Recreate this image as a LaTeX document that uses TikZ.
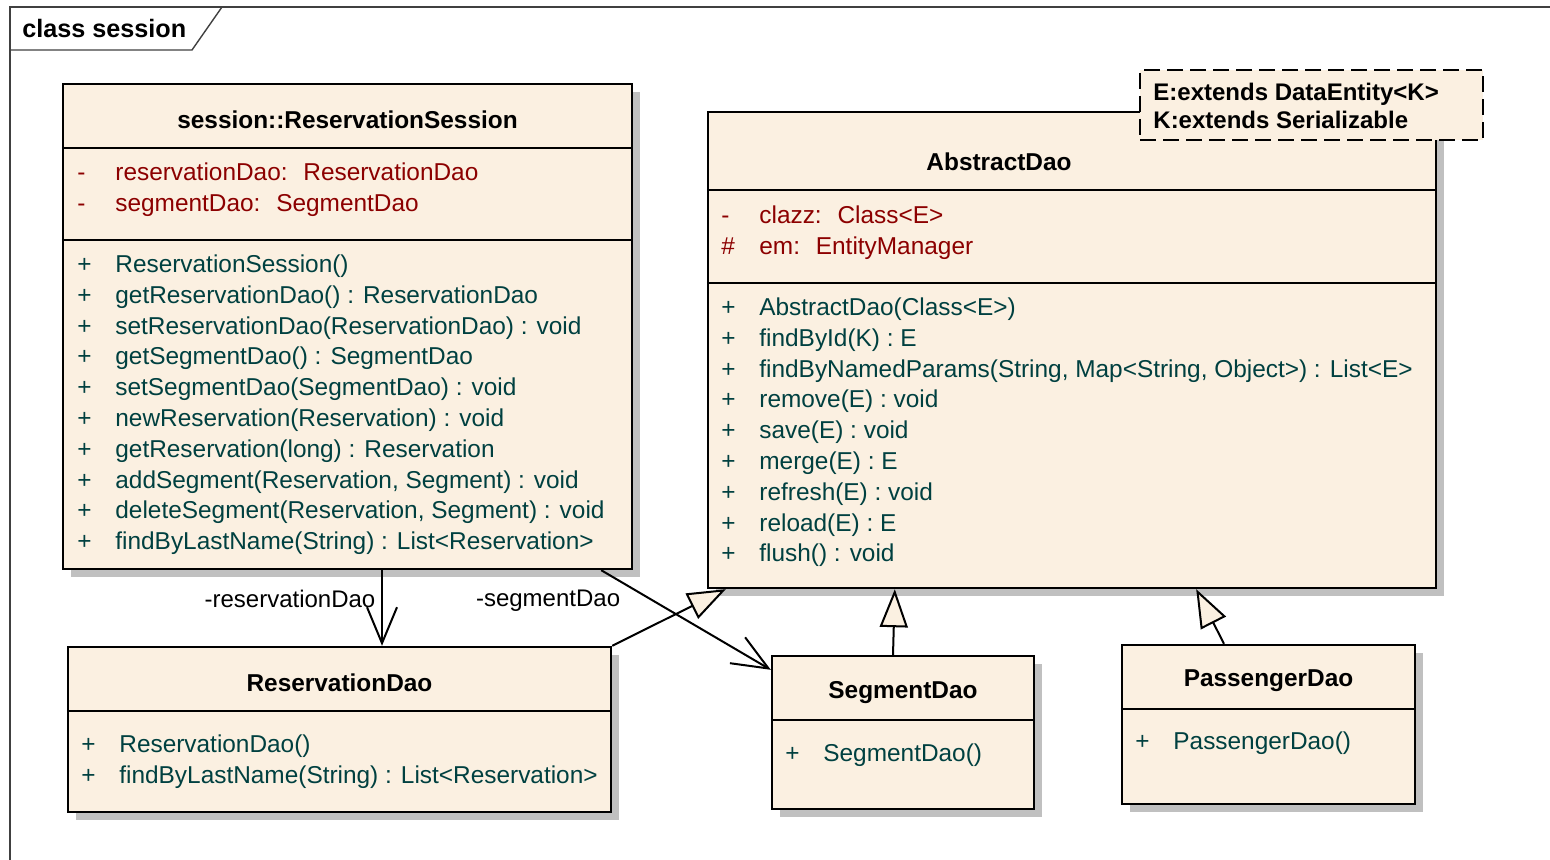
\documentclass[tikz,border=0pt]{standalone}
\usepackage{fontspec}
\setmainfont{Liberation Sans}
\usetikzlibrary{arrows.meta,fit,shadows}
\definecolor{umlfill}{RGB}{251,240,225}
\definecolor{attrred}{RGB}{140,0,0}
\definecolor{opgreen}{RGB}{0,64,64}
\definecolor{umlshadow}{RGB}{192,192,192}
\newcommand{\mm}[2]{\strut\makebox[19pt][l]{#1}#2}

\begin{document}
\begin{tikzpicture}[x=0.5pt,y=-0.5pt,
	umlbox/.style={draw,line width=1.2pt,fill=umlfill,inner sep=0pt,
		general shadow={fill=umlshadow,shadow xshift=4pt,shadow yshift=-4pt}},
	title/.style={font=\fontsize{12.2}{15.4}\selectfont\bfseries},
	attr/.style={anchor=north west,inner sep=0pt,align=left,text=attrred,font=\fontsize{12.2}{15.4}\selectfont},
	oper/.style={attr,text=opgreen},
	sep/.style={line width=1.2pt},
	assoc/.style={line width=1pt,-{Straight Barb[length=18pt,width=15pt]}},
	gen/.style={line width=1pt,-{Triangle[length=19pt,width=14pt,fill=umlfill]}},
	lbl/.style={font=\fontsize{12}{14}\selectfont}]
	\useasboundingbox (0,0) rectangle (1550,860);
	
	% rahmen
	\node[font=\fontsize{12.6}{15}\selectfont\bfseries,anchor=west,inner sep=0pt] (frameLbl) at (22,28) {class session};
	\draw[line width=0.7pt,black!75] (10,860) -- (10,7) -- (1550,7);
	\draw[line width=0.7pt,black!75] (10,50) -- (192,50) -- (222,7);
	
	% klassen
	\node[umlbox,fit={(63,84) (632,569)}] (sess) {};
	\node[umlbox,fit={(708,112) (1436,588)}] (dao) {};
	\node[umlbox,fit={(68,647) (611,812)}] (rdao) {};
	\node[umlbox,fit={(772,656) (1034,809)}] (sdao) {};
	\node[umlbox,fit={(1122,645) (1415,804)}] (pdao) {};
	
	% trennlinien
	\draw[sep] (sess.west |- 0,148) -- (sess.east |- 0,148);
	\draw[sep] (sess.west |- 0,240) -- (sess.east |- 0,240);
	\draw[sep] (dao.west |- 0,190) -- (dao.east |- 0,190);
	\draw[sep] (dao.west |- 0,283) -- (dao.east |- 0,283);
	\draw[sep] (rdao.west |- 0,711) -- (rdao.east |- 0,711);
	\draw[sep] (sdao.west |- 0,720) -- (sdao.east |- 0,720);
	\draw[sep] (pdao.west |- 0,709) -- (pdao.east |- 0,709);
	
	% ReservationSession
	\node[title] (sessName) at (347.5,120) {session::ReservationSession};
	\node[attr] (sessAttr) at (77,158.5) {\mm{-}{reservationDao:~ ReservationDao}\\\mm{-}{segmentDao:~ SegmentDao}};
	\node[oper] (sessOps) at (77,250.5) {\mm{+}{ReservationSession()}\\
		\mm{+}{getReservationDao() : ReservationDao}\\
		\mm{+}{setReservationDao(ReservationDao) : void}\\
		\mm{+}{getSegmentDao() : SegmentDao}\\
		\mm{+}{setSegmentDao(SegmentDao) : void}\\
		\mm{+}{newReservation(Reservation) : void}\\
		\mm{+}{getReservation(long) : Reservation}\\
		\mm{+}{addSegment(Reservation, Segment) : void}\\
		\mm{+}{deleteSegment(Reservation, Segment) : void}\\
		\mm{+}{findByLastName(String) : List<Reservation>}};
	
	% AbstractDao
	\node[title] (daoName) at (999,162) {AbstractDao};
	\node[attr] (daoAttr) at (721,201.5) {\mm{-}{clazz:~ Class<E>}\\\mm{\#}{em:~ EntityManager}};
	\node[oper] (daoOps) at (721,293.5) {\mm{+}{AbstractDao(Class<E>)}\\
		\mm{+}{findById(K) : E}\\
		\mm{+}{findByNamedParams(String, Map<String, Object>) : List<E>}\\
		\mm{+}{remove(E) : void}\\
		\mm{+}{save(E) : void}\\
		\mm{+}{merge(E) : E}\\
		\mm{+}{refresh(E) : void}\\
		\mm{+}{reload(E) : E}\\
		\mm{+}{flush() : void}};
	\node[draw,line width=1.2pt,dash pattern=on 8pt off 3.5pt,fill=umlfill,inner sep=0pt,fit={(1140,70) (1483,140)}] (tmpl) {};
	\node[anchor=west,inner sep=0pt,align=left,font=\fontsize{12}{14}\selectfont\bfseries] (tmplText) at (1153,109) {\strut E:extends DataEntity<K>\\\strut K:extends Serializable};
	
	% ReservationDao, SegmentDao, PassengerDao
	\node[title] (rdaoName) at (339.5,683) {ReservationDao};
	\node[oper] (rdaoOps) at (81,730.5) {\mm{+}{ReservationDao()}\\\mm{+}{findByLastName(String) : List<Reservation>}};
	\node[title] (sdaoName) at (903,693) {SegmentDao};
	\node[oper] (sdaoOps) at (785,739.5) {\mm{+}{SegmentDao()}};
	\node[title] (pdaoName) at (1268.5,681) {PassengerDao};
	\node[oper] (pdaoOps) at (1135,727.5) {\mm{+}{PassengerDao()}};
	
	% assoziationen
	\draw[assoc] ([xshift=17.25pt]sess.south) -- ([xshift=17.25pt]sess.south |- rdao.north)
		node[lbl,pos=0.38,left=-0.5pt] {-reservationDao};
	\draw[assoc] ([xshift=-16pt]sess.south east) -- ([yshift=-7.5pt]sdao.north west)
		node[lbl,pos=0.31,left=13pt] {-segmentDao};
	
	% generalisierungen
	\draw[gen] (rdao.north east) -- ([xshift=9.5pt]dao.south west);
	\draw[gen] ([xshift=-5pt]sdao.north) -- ([xshift=94pt]dao.south west);
	\draw[gen] ([xshift=-22.25pt]pdao.north) -- ([xshift=-120.5pt]dao.south east);
\end{tikzpicture}
\end{document}
